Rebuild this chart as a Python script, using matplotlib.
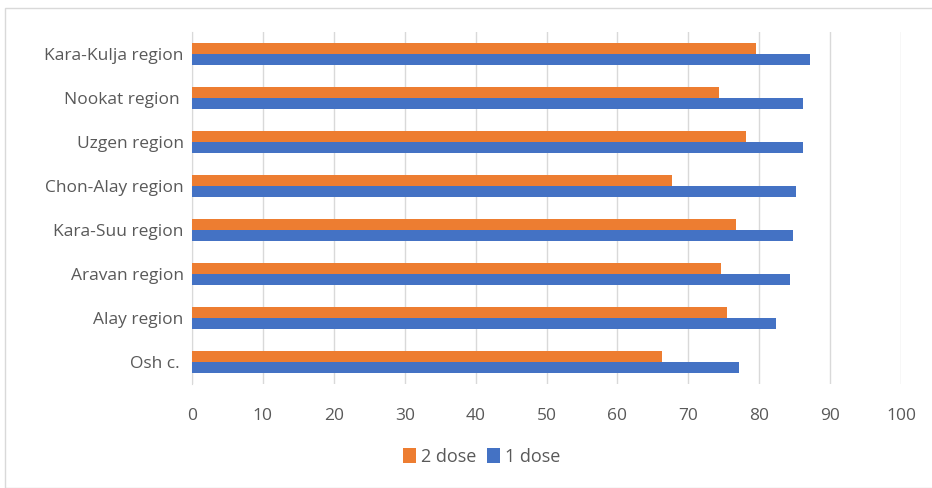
import matplotlib
matplotlib.use("Agg")
import matplotlib.pyplot as plt
import numpy as np
from matplotlib.patches import Rectangle

regions = ["Osh c. ", "Alay region", "Aravan region", "Kara-Suu region",
           "Chon-Alay region", "Uzgen region", "Nookat region ", "Kara-Kulja region"]
dose1 = [77.1, 82.4, 84.4, 84.7, 85.2, 86.2, 86.2, 87.2]
dose2 = [66.3, 75.4, 74.6, 76.7, 67.7, 78.2, 74.4, 79.6]
x_ticks = [0, 10, 20, 30, 40, 50, 60, 70, 80, 90, 100]

ORANGE = "#ED7D31"
BLUE = "#4472C4"
TEXT = "#595959"
GRID = "#D9D9D9"

plt.rcParams["font.family"] = ["Open Sans", "DejaVu Sans"]

fig = plt.figure(figsize=(9.32, 4.88), dpi=100)
ax = fig.add_axes([192 / 932, 1 - 384 / 488, (901 - 192) / 932, (384 - 32) / 488])

# chart frame
fig.patches.append(Rectangle((5 / 932, 0), 1, 1 - 8 / 488, transform=fig.transFigure,
                             fill=False, edgecolor="#D9D9D9", linewidth=1.0))

y = np.arange(len(regions))
h = 0.26
ax.barh(y - h / 2, dose1, height=h, color=BLUE, label="1 dose", zorder=3)
ax.barh(y + h / 2, dose2, height=h, color=ORANGE, label="2 dose", zorder=3)

ax.set_xlim(0, 100)
ax.set_ylim(-0.5, len(regions) - 0.5)
ax.set_xticks(x_ticks)
ax.set_yticks(y)
ax.set_yticklabels(regions)
ax.xaxis.grid(True, color=GRID, linewidth=1.0, zorder=0)
ax.set_axisbelow(True)
for s in ["top", "right", "bottom"]:
    ax.spines[s].set_visible(False)
ax.spines["left"].set_color(GRID)
ax.tick_params(axis="x", length=0, pad=17, labelsize=12.5, labelcolor=TEXT)
ax.tick_params(axis="y", length=0, pad=6, labelsize=12.5, labelcolor=TEXT)

handles, labels = ax.get_legend_handles_labels()
fig.legend(handles[::-1], labels[::-1], loc="center", bbox_to_anchor=(482 / 932, 1 - 457 / 488),
           ncol=2, frameon=False, fontsize=13, labelcolor=TEXT, handlelength=0.7,
           handleheight=0.9, handletextpad=0.3, columnspacing=0.6)

fig.savefig("out.png", dpi=100)
